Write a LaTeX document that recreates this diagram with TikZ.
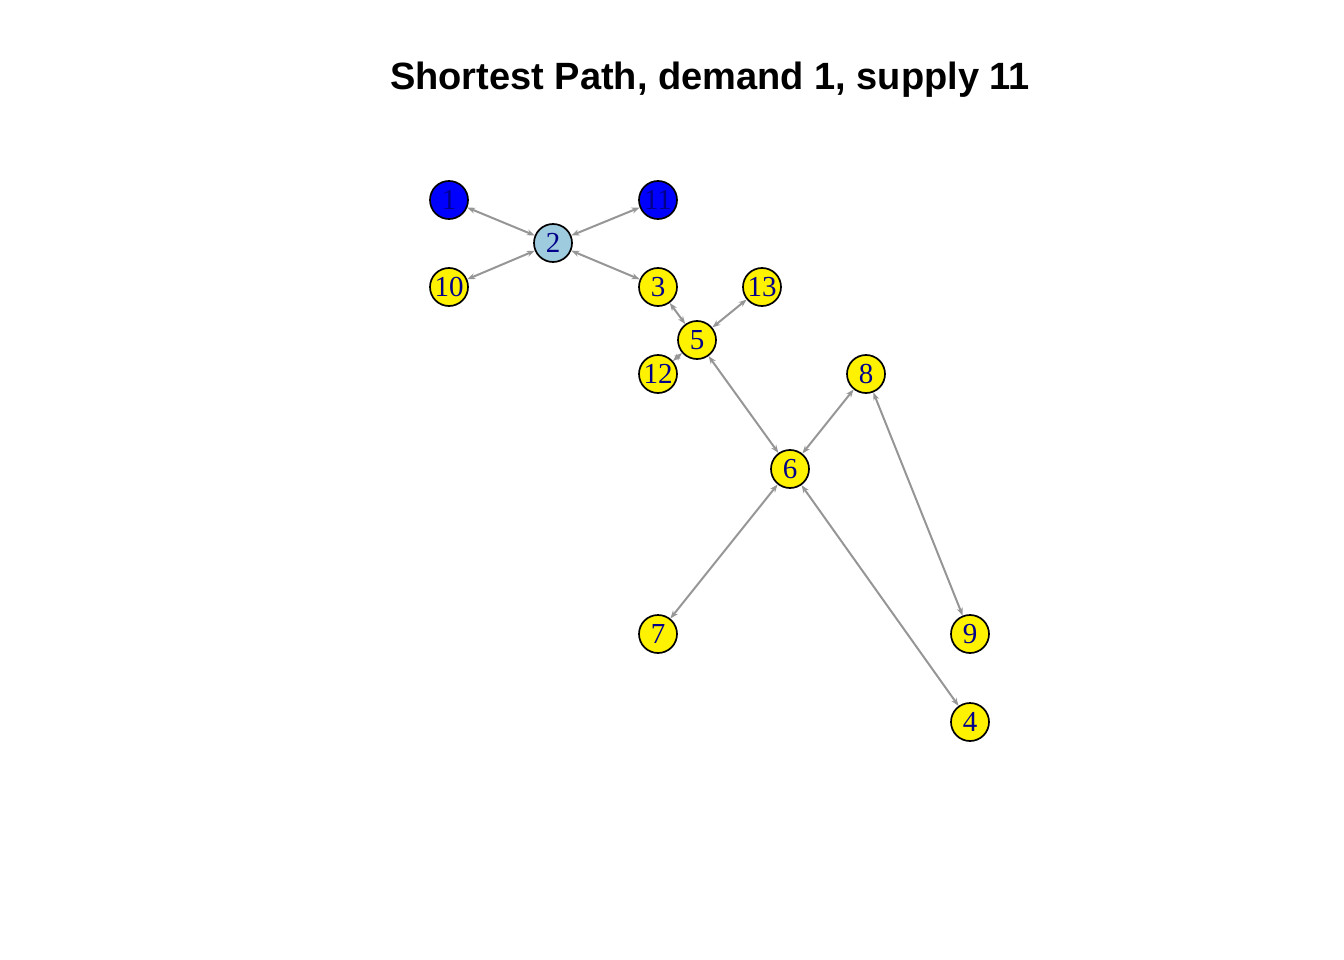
\documentclass[tikz,border=0pt]{standalone}
\usepackage{fontspec}
\setmainfont{Liberation Serif}
\newfontfamily\titlefont{Liberation Sans}
\usetikzlibrary{arrows.meta}
\definecolor{nodeblue}{RGB}{0,0,255}
\definecolor{nodelight}{RGB}{158,203,221}
\definecolor{labelnavy}{RGB}{0,0,139}
\definecolor{edgegray}{RGB}{150,150,150}
\begin{document}
\begin{tikzpicture}[x=1pt,y=-1pt,
  vtx/.style={circle,draw=black,line width=1.7pt,minimum size=38pt,inner sep=0pt,
    text=labelnavy,font=\fontsize{29}{29}\selectfont},
  sup/.style={vtx,fill=nodeblue},
  mid/.style={vtx,fill=nodelight},
  oth/.style={vtx,fill=yellow},
  edge/.style={draw=edgegray,line width=2pt,{Stealth[length=8pt,width=6pt]}-{Stealth[length=8pt,width=6pt]}}]
\useasboundingbox (0,0) rectangle (1344,960);
\node[font=\titlefont\bfseries\fontsize{38}{38}\selectfont] (title) at (710,80) {Shortest Path, demand 1, supply 11};
\node[sup] (n1) at (449,200) {1};
\node[sup] (n11) at (658,200) {11};
\node[mid] (n2) at (553,243) {2};
\node[oth] (n10) at (449,287) {10};
\node[oth] (n3) at (658,287) {3};
\node[oth] (n13) at (762,287) {13};
\node[oth] (n5) at (697,340) {5};
\node[oth] (n12) at (658,374) {12};
\node[oth] (n8) at (866,374) {8};
\node[oth] (n6) at (790,469) {6};
\node[oth] (n7) at (658,634) {7};
\node[oth] (n9) at (970,634) {9};
\node[oth] (n4) at (970,722) {4};
\draw[edge] (n1) -- (n2);
\draw[edge] (n11) -- (n2);
\draw[edge] (n10) -- (n2);
\draw[edge] (n2) -- (n3);
\draw[edge] (n3) -- (n5);
\draw[edge] (n13) -- (n5);
\draw[edge] (n12) -- (n5);
\draw[edge] (n5) -- (n6);
\draw[edge] (n6) -- (n8);
\draw[edge] (n8) -- (n9);
\draw[edge] (n6) -- (n7);
\draw[edge] (n6) -- (n4);
\end{tikzpicture}
\end{document}
